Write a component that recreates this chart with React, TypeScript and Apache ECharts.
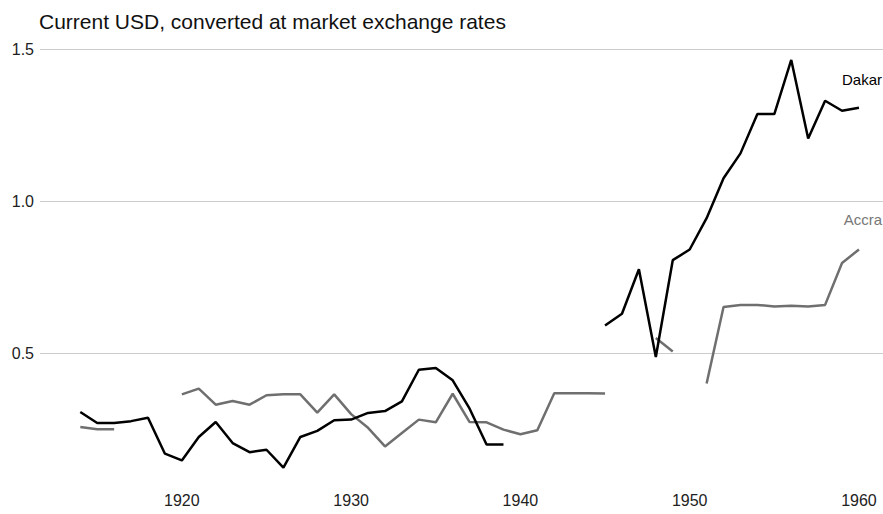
import React, { useEffect, useRef } from "react";
import * as echarts from "echarts";

const TITLE = "Current USD, converted at market exchange rates";
const YEARS = Array.from({ length: 47 }, (_, i) => 1914 + i);
// 1914 .. 1960 (null = no data)
const DAKAR: (number | null)[] = [
  0.307, 0.271, 0.271, 0.277, 0.288, 0.17, 0.148, 0.225, 0.274, 0.205,
  0.175, 0.183, 0.124, 0.225, 0.245, 0.28, 0.282, 0.304, 0.31, 0.342,
  0.446, 0.452, 0.411, 0.318, 0.2, 0.2, null, null, null, null,
  null, 0.591, 0.63, 0.776, 0.488, 0.806, 0.841, 0.944, 1.075, 1.157,
  1.286, 1.286, 1.464, 1.206, 1.33, 1.297, 1.307,
];
const ACCRA: (number | null)[] = [
  0.258, 0.25, 0.25, null, null, null, 0.365, 0.384, 0.331, 0.343,
  0.331, 0.362, 0.365, 0.365, 0.305, 0.365, 0.3, 0.255, 0.194, 0.238,
  0.282, 0.273, 0.367, 0.274, 0.273, 0.249, 0.234, 0.247, 0.369, 0.369,
  0.369, 0.368, null, null, 0.55, 0.506, null, 0.401, 0.652, 0.659,
  0.659, 0.654, 0.656, 0.654, 0.659, 0.797, 0.841,
];
const X_TICKS = [1920, 1930, 1940, 1950, 1960];
const Y_TICKS = [0.5, 1.0, 1.5];
const SERIES_LABELS = [
  { name: "Dakar", at: [1959.0, 1.4] },
  { name: "Accra", at: [1959.1, 0.94] },
];

const FONT = "Liberation Sans, Arial, Helvetica, sans-serif";

export default function App() {
  const ref = useRef<HTMLDivElement>(null);
  useEffect(() => {
    if (!ref.current) return;
    const chart = echarts.init(ref.current, null, { renderer: "svg" });
    const toData = (arr: (number | null)[]) =>
      YEARS.map((y, i) => [y, arr[i] == null ? "-" : arr[i]]);
    const mk = (name: string, values: (number | null)[], color: string, labelColor: string, idx: number) => ({
      name,
      type: "line",
      data: toData(values),
      showSymbol: false,
      symbol: "none",
      connectNulls: false,
      lineStyle: { color, width: 2.5 },
      itemStyle: { color },
      z: 3 - idx,
      markPoint: {
        symbol: "circle",
        symbolSize: 0,
        silent: true,
        data: [
          {
            coord: SERIES_LABELS[idx].at,
            label: {
              show: true,
              formatter: SERIES_LABELS[idx].name,
              position: "right",
              distance: 0,
              color: labelColor,
              fontSize: 15,
              fontFamily: FONT,
            },
          },
        ],
      },
    });
    chart.setOption({
      animation: false,
      backgroundColor: "#fff",
      textStyle: { fontFamily: FONT },
      title: {
        text: TITLE,
        left: 34,
        top: 6,
        textStyle: { fontSize: 21, fontWeight: "normal", color: "#111", fontFamily: FONT },
      },
      grid: { left: 40, right: 0, top: 49, bottom: 39, containLabel: false },
      xAxis: {
        type: "value",
        min: 1911.62,
        max: 1961.42,
        axisLine: { show: false },
        axisTick: { show: false, customValues: X_TICKS },
        splitLine: { show: false },
        axisLabel: {
          customValues: X_TICKS,
          formatter: (v: number) => String(Math.round(v)),
          color: "#222",
          fontSize: 16,
          margin: 17,
          fontFamily: FONT,
        },
      },
      yAxis: {
        type: "value",
        min: 0.1,
        max: 1.5,
        axisLine: { show: false },
        axisTick: { show: false, customValues: Y_TICKS },
        splitLine: { show: true, lineStyle: { color: "#cccccc", width: 1 } },
        axisLabel: {
          customValues: Y_TICKS,
          formatter: (v: number) => v.toFixed(1),
          color: "#222",
          fontSize: 16,
          margin: 6,
          fontFamily: FONT,
        },
      },
      series: [
        mk("Dakar", DAKAR, "#000000", "#000000", 0),
        mk("Accra", ACCRA, "#6f6f6f", "#777777", 1),
      ],
    });
    return () => chart.dispose();
  }, []);
  return (
    <div
      ref={ref}
      style={{ position: "fixed", left: 0, top: 0, width: 883, height: 514 }}
    />
  );
}
